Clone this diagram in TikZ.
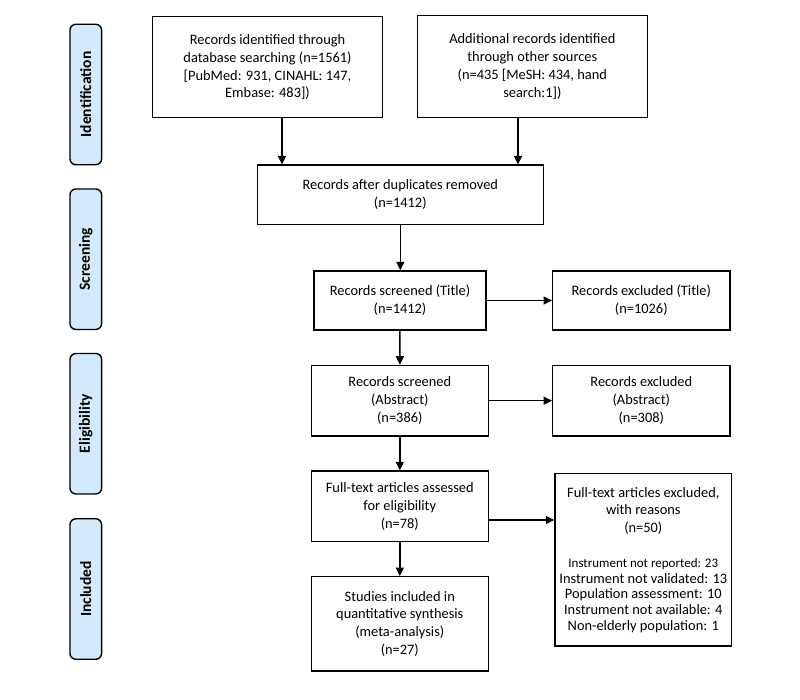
\documentclass[tikz,border=0pt]{standalone}
\usepackage{fontspec}
\setmainfont{Carlito}
\usetikzlibrary{arrows.meta,positioning}
\definecolor{sidefill}{HTML}{D2EAFB}
\tikzset{
  box/.style={draw=black, line width=1.3pt, fill=white, align=center, inner sep=0pt,
    font=\fontsize{14.4}{17.8}\selectfont},
  side/.style={draw=black, line width=1.4pt, fill=sidefill, rounded corners=6pt,
    rotate=90, inner sep=0pt, minimum width=140.5pt, minimum height=31.7pt,
    font=\bfseries\fontsize{15.5}{17}\selectfont},
  arr/.style={line width=1.5pt, -{Triangle[length=8.5pt,width=8pt]}},
}
\begin{document}
\begin{tikzpicture}[x=1pt,y=1pt]
\useasboundingbox (0,0) rectangle (800,-699);
% sidebars
\node[side] (sid) at (85.8,-94.5) {Identification};
\node[side] (sscr) at (85.8,-259.2) {Screening};
\node[side] (selig) at (85.8,-423.7) {Eligibility};
\node[side] (sinc) at (85.8,-589) {Included};
% boxes
\node[box, minimum width=230.4pt, minimum height=101pt] (b1) at (267.5,-67.2)
  {Records identified through\\database searching (n=1561)\\{}[PubMed: 931, CINAHL: 147,\\Embase: 483])};
\node[box, minimum width=230pt, minimum height=101.6pt] (b2) at (532.3,-66.5)
  {Additional records identified\\through other sources\\(n=435 [MeSH: 434, hand\\search:1])};
\node[box, minimum width=286pt, minimum height=59.3pt] (dup) at (400.3,-194.7)
  {Records after duplicates removed\\(n=1412)};
\node[box, minimum width=172pt, minimum height=59pt] (tit) at (400,-300.5)
  {Records screened (Title)\\(n=1412)};
\node[box, minimum width=177.3pt, minimum height=59pt] (extit) at (641.3,-300.5)
  {Records excluded (Title)\\(n=1026)};
\node[box, minimum width=177pt, minimum height=70.7pt] (abs) at (399.8,-400.7)
  {Records screened\\(Abstract)\\(n=386)};
\node[box, minimum width=177.3pt, minimum height=70.7pt] (exabs) at (641.3,-400.7)
  {Records excluded\\(Abstract)\\(n=308)};
\node[box, minimum width=177pt, minimum height=70.7pt] (ft) at (399.8,-506.3)
  {Full-text articles assessed\\for eligibility\\(n=78)};
\node[box, minimum width=177pt, minimum height=94.3pt] (stu) at (399.8,-623.8)
  {Studies included in\\quantitative synthesis\\(meta-analysis)\\(n=27)};
\node[box, minimum width=176.7pt, minimum height=172.3pt] (exft) at (643.3,-559.8)
  {Full-text articles excluded,\\with reasons\\(n=50)\\[16.8pt]
   \fontsize{13}{15.7}\selectfont Instrument not reported: 23\\[-2.1pt]Instrument not validated: 13\\[-2.1pt]Population assessment: 10\\[-2.1pt]Instrument not available: 4\\[-2.1pt]Non-elderly population: 1};
% connectors
\coordinate (p1) at ([xshift=14.5pt]b1.south);
\coordinate (p2) at ([xshift=-14.3pt]b2.south);
\draw[arr] (p1) -- (p1 |- dup.north);
\draw[arr] (p2) -- (p2 |- dup.north);
\draw[arr] (dup.south) -- (dup.south |- tit.north);
\draw[arr] (tit) -- (abs);
\draw[arr] (abs) -- (ft);
\draw[arr] (ft) -- (stu);
\draw[arr] (tit.east) -- (extit.west);
\draw[arr] (abs.east) -- (exabs.west);
\coordinate (p3) at ([yshift=-13.7pt]ft.east);
\draw[arr] (p3) -- (p3 -| exft.west);
\end{tikzpicture}
\end{document}
